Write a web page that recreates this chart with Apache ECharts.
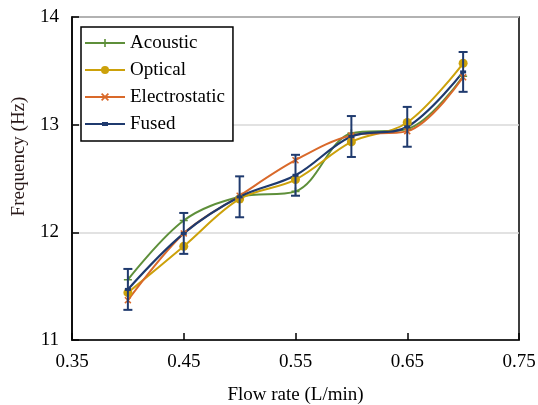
<!DOCTYPE html>
<html>
<head>
<meta charset="utf-8">
<script src="https://cdn.jsdelivr.net/npm/echarts@6/dist/echarts.min.js"></script>
<style>
html,body{margin:0;padding:0;background:#fff;}
#chart{width:538px;height:405px;}
</style>
</head>
<body>
<div id="chart"></div>
<script>
const flowRates = [0.4, 0.45, 0.5, 0.55, 0.6, 0.65, 0.7];
const acoustic = [11.56, 12.11, 12.33, 12.38, 12.92, 12.96, 13.45];
const optical = [11.44, 11.87, 12.31, 12.49, 12.84, 13.02, 13.57];
const electrostatic = [11.37, 11.99, 12.34, 12.67, 12.90, 12.94, 13.44];
const fused = [11.47, 11.99, 12.33, 12.53, 12.89, 12.98, 13.49];
const fusedErr = [0.19, 0.19, 0.19, 0.19, 0.19, 0.185, 0.185];
const seriesNames = ['Acoustic', 'Optical', 'Electrostatic', 'Fused'];

const colors = ['#5E8F3A', '#CCA10A', '#D9692A', '#1F3A6E'];
const FONT = '"Liberation Serif", "Times New Roman", serif';
const plusPath = 'path://M4,0H6V4H10V6H6V10H4V6H0V4H4Z';
const crossPath = 'path://M1.5,0L5,3.5L8.5,0L10,1.5L6.5,5L10,8.5L8.5,10L5,6.5L1.5,10L0,8.5L3.5,5L0,1.5Z';
const fusedLegendIcon = 'path://M0,0L0.01,0Z M0,10L0.01,10Z M0,4H40V6H0Z M17,3H23V7H17Z';

function pairs(ys) { return flowRates.map((x, i) => [x, ys[i]]); }

const chart = echarts.init(document.getElementById('chart'), null, {renderer: 'canvas'});

const lineBase = {type: 'line', smooth: 0.35, z: 3};

chart.setOption({
  animation: false,
  color: colors,
  textStyle: {fontFamily: FONT},
  grid: {left: 72, right: 19, top: 17, bottom: 65, outerBoundsMode: 'none', containLabel: false,
    show: true, borderColor: '#000', borderWidth: 1.5, backgroundColor: 'transparent'},
  legend: {
    data: [
      {name: seriesNames[0]},
      {name: seriesNames[1]},
      {name: seriesNames[2]},
      {name: seriesNames[3], icon: fusedLegendIcon}
    ],
    orient: 'vertical',
    left: 81, top: 27,
    itemWidth: 40, itemHeight: 10, itemGap: 7,
    padding: [6, 8, 7, 3],
    borderColor: '#000', borderWidth: 1.5,
    backgroundColor: '#fff',
    textStyle: {fontFamily: FONT, fontSize: 19, color: '#000', lineHeight: 20},
    z: 10
  },
  xAxis: {
    type: 'value', min: 0.35, max: 0.75, interval: 0.1,
    name: 'Flow rate (L/min)', nameLocation: 'middle', nameGap: 46,
    nameTextStyle: {fontFamily: FONT, fontSize: 19, color: '#000'},
    axisLine: {show: true, lineStyle: {color: '#000', width: 1.5}},
    axisTick: {show: true, inside: true, length: 7, lineStyle: {color: '#000', width: 1.5}},
    axisLabel: {fontFamily: FONT, fontSize: 19, color: '#000', margin: 13, formatter: v => v.toFixed(2)},
    splitLine: {show: false}
  },
  yAxis: {
    type: 'value', min: 11, max: 14, interval: 1,
    name: 'Frequency (Hz)', nameLocation: 'middle', nameGap: 43,
    nameTextStyle: {fontFamily: FONT, fontSize: 19, color: '#2a1a1a', padding: [0, 0, 0, 44]},
    axisLine: {show: true, lineStyle: {color: '#000', width: 1.5}},
    axisTick: {show: true, inside: true, length: 7, lineStyle: {color: '#000', width: 1.5}},
    axisLabel: {fontFamily: FONT, fontSize: 19, color: '#000', margin: 13},
    splitLine: {show: true, lineStyle: {color: '#D9D9D9', width: 1.5}}
  },
  series: [
    Object.assign({}, lineBase, {name: 'Acoustic', data: pairs(acoustic), symbol: plusPath, symbolSize: 8,
      itemStyle: {color: colors[0]}, lineStyle: {width: 2, color: colors[0]}}),
    Object.assign({}, lineBase, {name: 'Optical', data: pairs(optical), symbol: 'circle', symbolSize: 9,
      itemStyle: {color: colors[1]}, lineStyle: {width: 2, color: colors[1]}}),
    Object.assign({}, lineBase, {name: 'Electrostatic', data: pairs(electrostatic), symbol: crossPath, symbolSize: 7,
      itemStyle: {color: colors[2]}, lineStyle: {width: 2, color: colors[2]}}),
    Object.assign({}, lineBase, {name: 'Fused', data: pairs(fused), symbol: 'rect', symbolSize: [6, 3],
      itemStyle: {color: colors[3]}, lineStyle: {width: 2.2, color: colors[3]}}),
    {
      type: 'custom', name: 'FusedErr', silent: true, z: 5,
      data: flowRates.map((x, i) => [x, fused[i] - fusedErr[i], fused[i] + fusedErr[i]]),
      renderItem: function (params, api) {
        const x = api.value(0);
        const lo = api.coord([x, api.value(1)]);
        const hi = api.coord([x, api.value(2)]);
        const hw = 4.5;
        const st = {stroke: colors[3], lineWidth: 2};
        return {type: 'group', children: [
          {type: 'line', shape: {x1: lo[0], y1: lo[1], x2: hi[0], y2: hi[1]}, style: st},
          {type: 'line', shape: {x1: lo[0] - hw, y1: lo[1], x2: lo[0] + hw, y2: lo[1]}, style: st},
          {type: 'line', shape: {x1: hi[0] - hw, y1: hi[1], x2: hi[0] + hw, y2: hi[1]}, style: st}
        ]};
      }
    }
  ]
});
</script>
</body>
</html>
